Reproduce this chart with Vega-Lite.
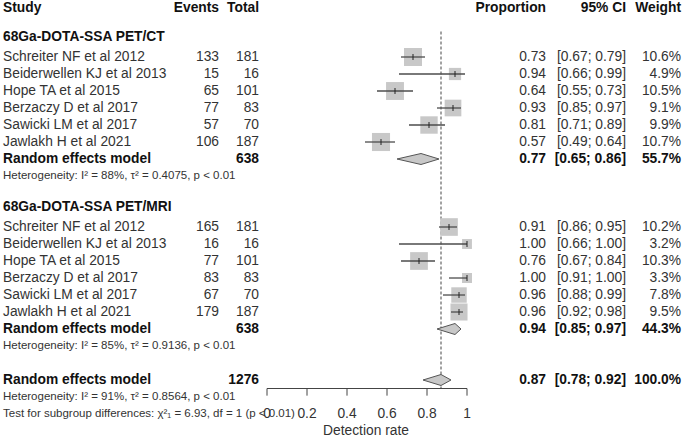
{
  "$schema": "https://vega.github.io/schema/vega-lite/v6.json",
  "width": 685,
  "height": 439,
  "autosize": {"type": "fit", "contains": "padding"},
  "padding": 0,
  "background": "white",
  "config": {"view": {"stroke": null}, "font": "Liberation Sans"},
  "datasets": {
    "studies": [
      {"row": 3, "study": "Schreiter NF et al 2012", "events": 133, "total": 181, "prop": 0.73, "lo": 0.67, "hi": 0.79, "ci": "[0.67; 0.79]", "weight": 10.6, "wt": "10.6%"},
      {"row": 4, "study": "Beiderwellen KJ et al 2013", "events": 15, "total": 16, "prop": 0.94, "lo": 0.66, "hi": 0.99, "ci": "[0.66; 0.99]", "weight": 4.9, "wt": "4.9%"},
      {"row": 5, "study": "Hope TA et al 2015", "events": 65, "total": 101, "prop": 0.64, "lo": 0.55, "hi": 0.73, "ci": "[0.55; 0.73]", "weight": 10.5, "wt": "10.5%"},
      {"row": 6, "study": "Berzaczy D et al 2017", "events": 77, "total": 83, "prop": 0.93, "lo": 0.85, "hi": 0.97, "ci": "[0.85; 0.97]", "weight": 9.1, "wt": "9.1%"},
      {"row": 7, "study": "Sawicki LM et al 2017", "events": 57, "total": 70, "prop": 0.81, "lo": 0.71, "hi": 0.89, "ci": "[0.71; 0.89]", "weight": 9.9, "wt": "9.9%"},
      {"row": 8, "study": "Jawlakh H et al 2021", "events": 106, "total": 187, "prop": 0.57, "lo": 0.49, "hi": 0.64, "ci": "[0.49; 0.64]", "weight": 10.7, "wt": "10.7%"},
      {"row": 13, "study": "Schreiter NF et al 2012", "events": 165, "total": 181, "prop": 0.91, "lo": 0.86, "hi": 0.95, "ci": "[0.86; 0.95]", "weight": 10.2, "wt": "10.2%"},
      {"row": 14, "study": "Beiderwellen KJ et al 2013", "events": 16, "total": 16, "prop": 1.0, "lo": 0.66, "hi": 1.0, "ci": "[0.66; 1.00]", "weight": 3.2, "wt": "3.2%"},
      {"row": 15, "study": "Hope TA et al 2015", "events": 77, "total": 101, "prop": 0.76, "lo": 0.67, "hi": 0.84, "ci": "[0.67; 0.84]", "weight": 10.3, "wt": "10.3%"},
      {"row": 16, "study": "Berzaczy D et al 2017", "events": 83, "total": 83, "prop": 1.0, "lo": 0.91, "hi": 1.0, "ci": "[0.91; 1.00]", "weight": 3.3, "wt": "3.3%"},
      {"row": 17, "study": "Sawicki LM et al 2017", "events": 67, "total": 70, "prop": 0.96, "lo": 0.88, "hi": 0.99, "ci": "[0.88; 0.99]", "weight": 7.8, "wt": "7.8%"},
      {"row": 18, "study": "Jawlakh H et al 2021", "events": 179, "total": 187, "prop": 0.96, "lo": 0.92, "hi": 0.98, "ci": "[0.92; 0.98]", "weight": 9.5, "wt": "9.5%"}
    ],
    "models": [
      {"row": 9, "id": "CT", "label": "Random effects model", "total": 638, "prop": 0.77, "lo": 0.65, "hi": 0.86, "ci": "[0.65; 0.86]", "wt": "55.7%"},
      {"row": 19, "id": "MRI", "label": "Random effects model", "total": 638, "prop": 0.94, "lo": 0.85, "hi": 0.97, "ci": "[0.85; 0.97]", "wt": "44.3%"},
      {"row": 22, "id": "All", "label": "Random effects model", "total": 1276, "prop": 0.87, "lo": 0.78, "hi": 0.92, "ci": "[0.78; 0.92]", "wt": "100.0%"}
    ],
    "vertex": [
      {"pt": "lo", "h": 0},
      {"pt": "prop", "h": 1},
      {"pt": "hi", "h": 0}
    ],
    "groups": [
      {"row": 2, "txt": "68Ga-DOTA-SSA PET/CT"},
      {"row": 12, "txt": "68Ga-DOTA-SSA PET/MRI"}
    ],
    "notes": [
      {"row": 10, "txt": "Heterogeneity: I² = 88%, τ² = 0.4075, p < 0.01"},
      {"row": 20, "txt": "Heterogeneity: I² = 85%, τ² = 0.9136, p < 0.01"},
      {"row": 23, "txt": "Heterogeneity: I² = 91%, τ² = 0.8564, p < 0.01"},
      {"row": 24, "txt": "Test for subgroup differences: χ²₁ = 6.93, df = 1 (p < 0.01)"}
    ],
    "ticks": [
      {"t": 0, "lab": "0"},
      {"t": 0.2, "lab": "0.2"},
      {"t": 0.4, "lab": "0.4"},
      {"t": 0.6, "lab": "0.6"},
      {"t": 0.8, "lab": "0.8"},
      {"t": 1, "lab": "1"}
    ]
  },
  "resolve": {"scale": {"size": "independent", "yOffset": "independent", "y": "independent"}},
  "layer": [
    {
      "data": {"name": "models"},
      "transform": [{"filter": "datum.id === 'All'"}],
      "mark": {"type": "rule", "color": "#444444", "strokeWidth": 1, "strokeDash": [3, 2]},
      "encoding": {
        "x": {"field": "prop", "type": "quantitative", "scale": {"domain": [-1.335, 2.09], "nice": false, "zero": false}, "axis": null},
        "y": {"datum": 1.5, "type": "quantitative", "scale": {"domain": [-0.353, 25.47], "reverse": true, "nice": false, "zero": false}, "axis": null},
        "y2": {"datum": 22.5}
      }
    },
    {
      "data": {"name": "studies"},
      "mark": {"type": "point", "shape": "square", "filled": true, "color": "#c8c8c8", "opacity": 1},
      "encoding": {
        "x": {"field": "prop", "type": "quantitative", "scale": {"domain": [-1.335, 2.09], "nice": false, "zero": false}, "axis": null},
        "y": {"field": "row", "type": "quantitative", "scale": {"domain": [-0.353, 25.47], "reverse": true, "nice": false, "zero": false}, "axis": null},
        "size": {"field": "weight", "type": "quantitative", "scale": {"domain": [0, 10.7], "range": [0, 327]}, "legend": null}
      }
    },
    {
      "data": {"name": "studies"},
      "mark": {"type": "rule", "color": "#4d4d4d", "strokeWidth": 1.3},
      "encoding": {
        "x": {"field": "lo", "type": "quantitative", "scale": {"domain": [-1.335, 2.09], "nice": false, "zero": false}, "axis": null},
        "x2": {"field": "hi"},
        "y": {"field": "row", "type": "quantitative", "scale": {"domain": [-0.353, 25.47], "reverse": true, "nice": false, "zero": false}, "axis": null}
      }
    },
    {
      "data": {"name": "studies"},
      "mark": {"type": "tick", "orient": "vertical", "size": 6, "thickness": 1, "color": "#222222", "opacity": 1},
      "encoding": {
        "x": {"field": "prop", "type": "quantitative", "scale": {"domain": [-1.335, 2.09], "nice": false, "zero": false}, "axis": null},
        "y": {"field": "row", "type": "quantitative", "scale": {"domain": [-0.353, 25.47], "reverse": true, "nice": false, "zero": false}, "axis": null}
      }
    },
    {
      "data": {"name": "models"},
      "transform": [
        {"fold": ["lo", "prop", "hi"], "as": ["pt", "val"]},
        {"lookup": "pt", "from": {"data": {"name": "vertex"}, "key": "pt", "fields": ["h"]}}
      ],
      "mark": {"type": "line", "fill": "#c8c8c8", "stroke": "#555555", "strokeWidth": 1, "strokeJoin": "miter"},
      "encoding": {
        "x": {"field": "val", "type": "quantitative", "scale": {"domain": [-1.335, 2.09], "nice": false, "zero": false}, "axis": null},
        "y": {"field": "row", "type": "ordinal", "scale": {"type": "point", "domain": [9, 10, 11, 12, 13, 14, 15, 16, 17, 18, 19, 20, 21, 22], "range": [159, 380], "padding": 0}, "axis": null},
        "yOffset": {"field": "h", "type": "quantitative", "scale": {"domain": [0, 1], "range": [0, -5.5]}},
        "detail": {"field": "id", "type": "nominal"},
        "order": {"field": "val", "type": "quantitative"}
      }
    },
    {
      "data": {"name": "models"},
      "transform": [
        {"fold": ["lo", "prop", "hi"], "as": ["pt", "val"]},
        {"lookup": "pt", "from": {"data": {"name": "vertex"}, "key": "pt", "fields": ["h"]}}
      ],
      "mark": {"type": "line", "fill": "#c8c8c8", "stroke": "#555555", "strokeWidth": 1, "strokeJoin": "miter"},
      "encoding": {
        "x": {"field": "val", "type": "quantitative", "scale": {"domain": [-1.335, 2.09], "nice": false, "zero": false}, "axis": null},
        "y": {"field": "row", "type": "ordinal", "scale": {"type": "point", "domain": [9, 10, 11, 12, 13, 14, 15, 16, 17, 18, 19, 20, 21, 22], "range": [159, 380], "padding": 0}, "axis": null},
        "yOffset": {"field": "h", "type": "quantitative", "scale": {"domain": [0, 1], "range": [0, 5.5]}},
        "detail": {"field": "id", "type": "nominal"},
        "order": {"field": "val", "type": "quantitative"}
      }
    },
    {
      "data": {"values": [{}]},
      "mark": {"type": "rule", "color": "#444444", "strokeWidth": 1},
      "encoding": {
        "x": {"datum": 0, "type": "quantitative", "scale": {"domain": [-1.335, 2.09], "nice": false, "zero": false}, "axis": null},
        "x2": {"datum": 1},
        "y": {"datum": 22.5, "type": "quantitative", "scale": {"domain": [-0.353, 25.47], "reverse": true, "nice": false, "zero": false}, "axis": null}
      }
    },
    {
      "data": {"name": "ticks"},
      "mark": {"type": "rule", "color": "#444444", "strokeWidth": 1},
      "encoding": {
        "x": {"field": "t", "type": "quantitative", "scale": {"domain": [-1.335, 2.09], "nice": false, "zero": false}, "axis": null},
        "y": {"datum": 22.5, "type": "quantitative", "scale": {"domain": [-0.353, 25.47], "reverse": true, "nice": false, "zero": false}, "axis": null},
        "y2": {"datum": 22.92}
      }
    },
    {
      "data": {"name": "ticks"},
      "mark": {"type": "text", "fontSize": 13.8, "color": "#333333", "align": "center", "baseline": "middle"},
      "encoding": {
        "x": {"field": "t", "type": "quantitative", "scale": {"domain": [-1.335, 2.09], "nice": false, "zero": false}, "axis": null},
        "y": {"datum": 24, "type": "quantitative", "scale": {"domain": [-0.353, 25.47], "reverse": true, "nice": false, "zero": false}, "axis": null},
        "text": {"field": "lab", "type": "nominal"}
      }
    },
    {
      "data": {"values": [{}]},
      "mark": {"type": "text", "text": "Detection rate", "fontSize": 13.8, "color": "#333333", "align": "center", "baseline": "middle"},
      "encoding": {
        "x": {"datum": 0.495, "type": "quantitative", "scale": {"domain": [-1.335, 2.09], "nice": false, "zero": false}, "axis": null},
        "y": {"datum": 25, "type": "quantitative", "scale": {"domain": [-0.353, 25.47], "reverse": true, "nice": false, "zero": false}, "axis": null}
      }
    },
    {
      "data": {"values": [{"h": "Study"}]},
      "mark": {"type": "text", "fontSize": 13.8, "fontWeight": "bold", "color": "#111111", "align": "left", "baseline": "middle"},
      "encoding": {
        "x": {"datum": -1.32, "type": "quantitative", "scale": {"domain": [-1.335, 2.09], "nice": false, "zero": false}, "axis": null},
        "y": {"datum": 0.1, "type": "quantitative", "scale": {"domain": [-0.353, 25.47], "reverse": true, "nice": false, "zero": false}, "axis": null},
        "text": {"field": "h", "type": "nominal"}
      }
    },
    {
      "data": {"values": [{"h": "Events"}]},
      "mark": {"type": "text", "fontSize": 13.8, "fontWeight": "bold", "color": "#111111", "align": "right", "baseline": "middle"},
      "encoding": {
        "x": {"datum": -0.24, "type": "quantitative", "scale": {"domain": [-1.335, 2.09], "nice": false, "zero": false}, "axis": null},
        "y": {"datum": 0.1, "type": "quantitative", "scale": {"domain": [-0.353, 25.47], "reverse": true, "nice": false, "zero": false}, "axis": null},
        "text": {"field": "h", "type": "nominal"}
      }
    },
    {
      "data": {"values": [{"h": "Total"}]},
      "mark": {"type": "text", "fontSize": 13.8, "fontWeight": "bold", "color": "#111111", "align": "right", "baseline": "middle"},
      "encoding": {
        "x": {"datum": -0.04, "type": "quantitative", "scale": {"domain": [-1.335, 2.09], "nice": false, "zero": false}, "axis": null},
        "y": {"datum": 0.1, "type": "quantitative", "scale": {"domain": [-0.353, 25.47], "reverse": true, "nice": false, "zero": false}, "axis": null},
        "text": {"field": "h", "type": "nominal"}
      }
    },
    {
      "data": {"values": [{"h": "Proportion"}]},
      "mark": {"type": "text", "fontSize": 13.8, "fontWeight": "bold", "color": "#111111", "align": "right", "baseline": "middle"},
      "encoding": {
        "x": {"datum": 1.395, "type": "quantitative", "scale": {"domain": [-1.335, 2.09], "nice": false, "zero": false}, "axis": null},
        "y": {"datum": 0.1, "type": "quantitative", "scale": {"domain": [-0.353, 25.47], "reverse": true, "nice": false, "zero": false}, "axis": null},
        "text": {"field": "h", "type": "nominal"}
      }
    },
    {
      "data": {"values": [{"h": "95% CI"}]},
      "mark": {"type": "text", "fontSize": 13.8, "fontWeight": "bold", "color": "#111111", "align": "right", "baseline": "middle"},
      "encoding": {
        "x": {"datum": 1.795, "type": "quantitative", "scale": {"domain": [-1.335, 2.09], "nice": false, "zero": false}, "axis": null},
        "y": {"datum": 0.1, "type": "quantitative", "scale": {"domain": [-0.353, 25.47], "reverse": true, "nice": false, "zero": false}, "axis": null},
        "text": {"field": "h", "type": "nominal"}
      }
    },
    {
      "data": {"values": [{"h": "Weight"}]},
      "mark": {"type": "text", "fontSize": 13.8, "fontWeight": "bold", "color": "#111111", "align": "right", "baseline": "middle"},
      "encoding": {
        "x": {"datum": 2.07, "type": "quantitative", "scale": {"domain": [-1.335, 2.09], "nice": false, "zero": false}, "axis": null},
        "y": {"datum": 0.1, "type": "quantitative", "scale": {"domain": [-0.353, 25.47], "reverse": true, "nice": false, "zero": false}, "axis": null},
        "text": {"field": "h", "type": "nominal"}
      }
    },
    {
      "data": {"name": "groups"},
      "mark": {"type": "text", "fontSize": 13.8, "fontWeight": "bold", "color": "#111111", "align": "left", "baseline": "middle", "dy": -3},
      "encoding": {
        "x": {"datum": -1.32, "type": "quantitative", "scale": {"domain": [-1.335, 2.09], "nice": false, "zero": false}, "axis": null},
        "y": {"field": "row", "type": "quantitative", "scale": {"domain": [-0.353, 25.47], "reverse": true, "nice": false, "zero": false}, "axis": null},
        "text": {"field": "txt", "type": "nominal"}
      }
    },
    {
      "data": {"name": "notes"},
      "mark": {"type": "text", "fontSize": 11.5, "color": "#333333", "align": "left", "baseline": "middle"},
      "encoding": {
        "x": {"datum": -1.32, "type": "quantitative", "scale": {"domain": [-1.335, 2.09], "nice": false, "zero": false}, "axis": null},
        "y": {"field": "row", "type": "quantitative", "scale": {"domain": [-0.353, 25.47], "reverse": true, "nice": false, "zero": false}, "axis": null},
        "text": {"field": "txt", "type": "nominal"}
      }
    },
    {
      "data": {"name": "studies"},
      "mark": {"type": "text", "fontSize": 13.8, "color": "#333333", "align": "left", "baseline": "middle"},
      "encoding": {
        "x": {"datum": -1.32, "type": "quantitative", "scale": {"domain": [-1.335, 2.09], "nice": false, "zero": false}, "axis": null},
        "y": {"field": "row", "type": "quantitative", "scale": {"domain": [-0.353, 25.47], "reverse": true, "nice": false, "zero": false}, "axis": null},
        "text": {"field": "study", "type": "nominal"}
      }
    },
    {
      "data": {"name": "studies"},
      "mark": {"type": "text", "fontSize": 13.8, "color": "#333333", "align": "right", "baseline": "middle"},
      "encoding": {
        "x": {"datum": -0.24, "type": "quantitative", "scale": {"domain": [-1.335, 2.09], "nice": false, "zero": false}, "axis": null},
        "y": {"field": "row", "type": "quantitative", "scale": {"domain": [-0.353, 25.47], "reverse": true, "nice": false, "zero": false}, "axis": null},
        "text": {"field": "events", "type": "quantitative", "format": "d"}
      }
    },
    {
      "data": {"name": "studies"},
      "mark": {"type": "text", "fontSize": 13.8, "color": "#333333", "align": "right", "baseline": "middle"},
      "encoding": {
        "x": {"datum": -0.04, "type": "quantitative", "scale": {"domain": [-1.335, 2.09], "nice": false, "zero": false}, "axis": null},
        "y": {"field": "row", "type": "quantitative", "scale": {"domain": [-0.353, 25.47], "reverse": true, "nice": false, "zero": false}, "axis": null},
        "text": {"field": "total", "type": "quantitative", "format": "d"}
      }
    },
    {
      "data": {"name": "studies"},
      "mark": {"type": "text", "fontSize": 13.8, "color": "#333333", "align": "right", "baseline": "middle"},
      "encoding": {
        "x": {"datum": 1.395, "type": "quantitative", "scale": {"domain": [-1.335, 2.09], "nice": false, "zero": false}, "axis": null},
        "y": {"field": "row", "type": "quantitative", "scale": {"domain": [-0.353, 25.47], "reverse": true, "nice": false, "zero": false}, "axis": null},
        "text": {"field": "prop", "type": "quantitative", "format": ".2f"}
      }
    },
    {
      "data": {"name": "studies"},
      "mark": {"type": "text", "fontSize": 13.8, "color": "#333333", "align": "right", "baseline": "middle"},
      "encoding": {
        "x": {"datum": 1.795, "type": "quantitative", "scale": {"domain": [-1.335, 2.09], "nice": false, "zero": false}, "axis": null},
        "y": {"field": "row", "type": "quantitative", "scale": {"domain": [-0.353, 25.47], "reverse": true, "nice": false, "zero": false}, "axis": null},
        "text": {"field": "ci", "type": "nominal"}
      }
    },
    {
      "data": {"name": "studies"},
      "mark": {"type": "text", "fontSize": 13.8, "color": "#333333", "align": "right", "baseline": "middle"},
      "encoding": {
        "x": {"datum": 2.07, "type": "quantitative", "scale": {"domain": [-1.335, 2.09], "nice": false, "zero": false}, "axis": null},
        "y": {"field": "row", "type": "quantitative", "scale": {"domain": [-0.353, 25.47], "reverse": true, "nice": false, "zero": false}, "axis": null},
        "text": {"field": "wt", "type": "nominal"}
      }
    },
    {
      "data": {"name": "models"},
      "mark": {"type": "text", "fontSize": 13.8, "fontWeight": "bold", "color": "#111111", "align": "left", "baseline": "middle"},
      "encoding": {
        "x": {"datum": -1.32, "type": "quantitative", "scale": {"domain": [-1.335, 2.09], "nice": false, "zero": false}, "axis": null},
        "y": {"field": "row", "type": "quantitative", "scale": {"domain": [-0.353, 25.47], "reverse": true, "nice": false, "zero": false}, "axis": null},
        "text": {"field": "label", "type": "nominal"}
      }
    },
    {
      "data": {"name": "models"},
      "mark": {"type": "text", "fontSize": 13.8, "fontWeight": "bold", "color": "#111111", "align": "right", "baseline": "middle"},
      "encoding": {
        "x": {"datum": -0.04, "type": "quantitative", "scale": {"domain": [-1.335, 2.09], "nice": false, "zero": false}, "axis": null},
        "y": {"field": "row", "type": "quantitative", "scale": {"domain": [-0.353, 25.47], "reverse": true, "nice": false, "zero": false}, "axis": null},
        "text": {"field": "total", "type": "quantitative", "format": "d"}
      }
    },
    {
      "data": {"name": "models"},
      "mark": {"type": "text", "fontSize": 13.8, "fontWeight": "bold", "color": "#111111", "align": "right", "baseline": "middle"},
      "encoding": {
        "x": {"datum": 1.395, "type": "quantitative", "scale": {"domain": [-1.335, 2.09], "nice": false, "zero": false}, "axis": null},
        "y": {"field": "row", "type": "quantitative", "scale": {"domain": [-0.353, 25.47], "reverse": true, "nice": false, "zero": false}, "axis": null},
        "text": {"field": "prop", "type": "quantitative", "format": ".2f"}
      }
    },
    {
      "data": {"name": "models"},
      "mark": {"type": "text", "fontSize": 13.8, "fontWeight": "bold", "color": "#111111", "align": "right", "baseline": "middle"},
      "encoding": {
        "x": {"datum": 1.795, "type": "quantitative", "scale": {"domain": [-1.335, 2.09], "nice": false, "zero": false}, "axis": null},
        "y": {"field": "row", "type": "quantitative", "scale": {"domain": [-0.353, 25.47], "reverse": true, "nice": false, "zero": false}, "axis": null},
        "text": {"field": "ci", "type": "nominal"}
      }
    },
    {
      "data": {"name": "models"},
      "mark": {"type": "text", "fontSize": 13.8, "fontWeight": "bold", "color": "#111111", "align": "right", "baseline": "middle"},
      "encoding": {
        "x": {"datum": 2.07, "type": "quantitative", "scale": {"domain": [-1.335, 2.09], "nice": false, "zero": false}, "axis": null},
        "y": {"field": "row", "type": "quantitative", "scale": {"domain": [-0.353, 25.47], "reverse": true, "nice": false, "zero": false}, "axis": null},
        "text": {"field": "wt", "type": "nominal"}
      }
    }
  ]
}
